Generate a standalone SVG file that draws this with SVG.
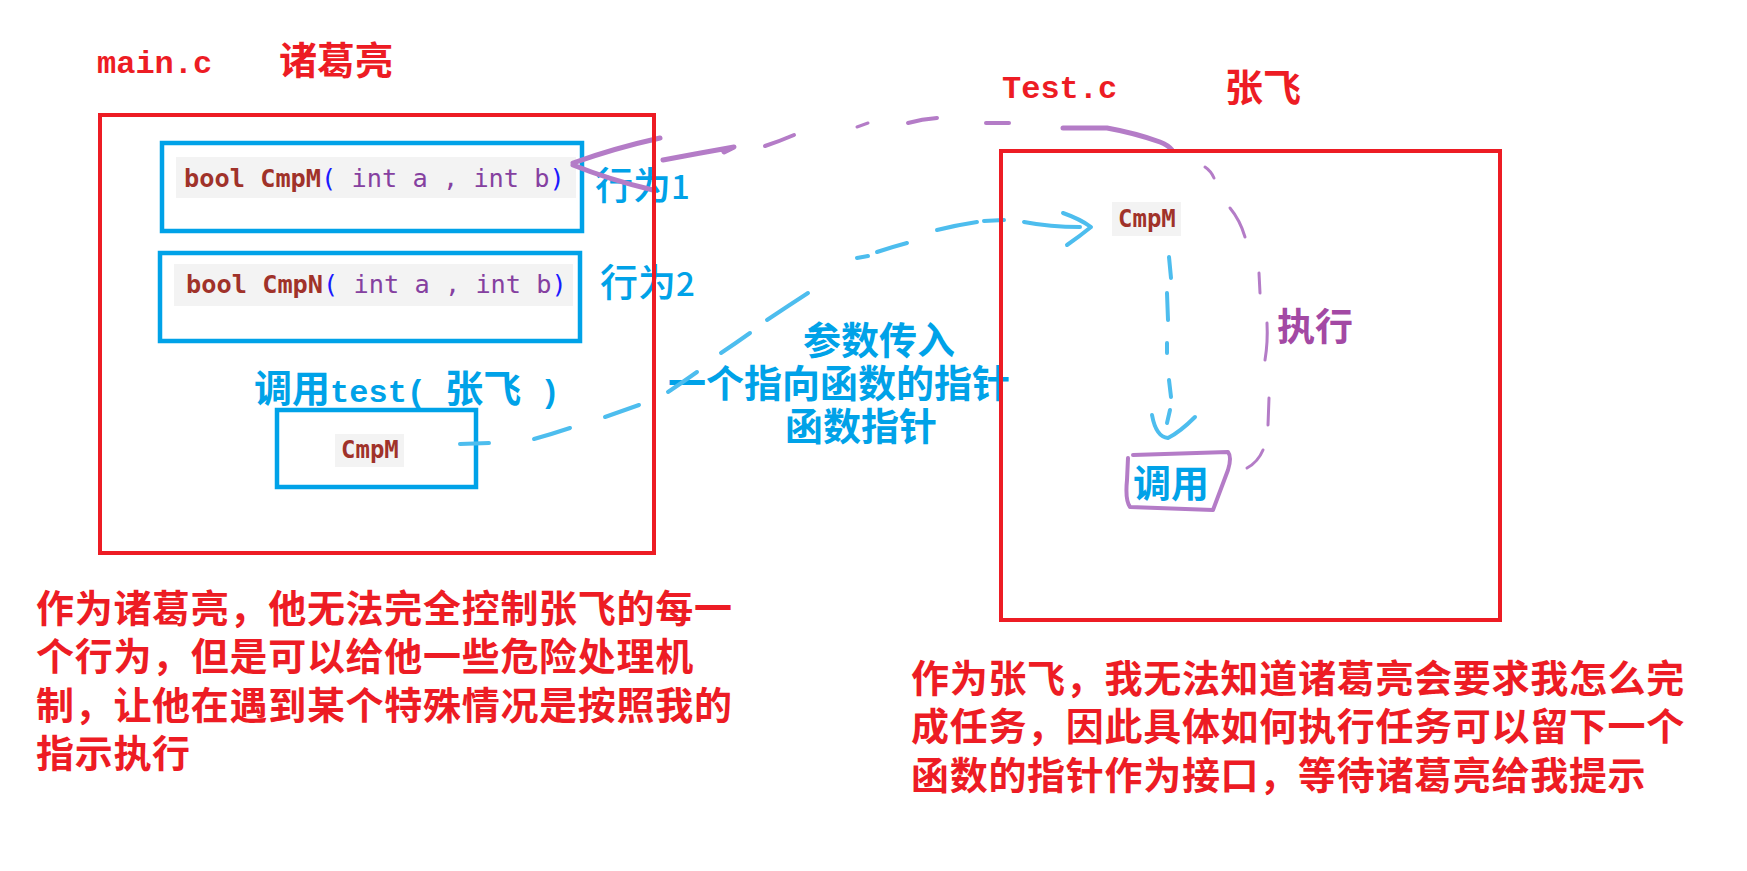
<svg xmlns="http://www.w3.org/2000/svg" width="1747" height="871" viewBox="0 0 1747 871">
<style>
.cjk{font-family:"Noto Sans CJK SC","Noto Sans",sans-serif;font-weight:bold;font-size:38px}
.reg{font-weight:500}
.mono{font-family:"Liberation Mono",monospace;font-weight:bold;font-size:32px}
.red{fill:#ed1c24}
.blue{fill:#00a2e8}
.purp{fill:#a349a4}
.para{letter-spacing:0.7px}
.code{font-family:"DejaVu Sans Mono","Liberation Mono",monospace;font-size:25.3px}
.kw{fill:#a0322a;font-weight:bold}
.par{fill:#1a1aff}
.arg{fill:#8540a0}
.bg{fill:#f3f3f3}
.frame{fill:none;stroke:#ed1c24;stroke-width:4}
.box{fill:none;stroke:#00a2e8;stroke-width:4.5}
.pc{fill:none;stroke:#b47cc7;stroke-linecap:round;stroke-linejoin:round}
.bc{fill:none;stroke:#4dbdee;stroke-width:4;stroke-linecap:round;stroke-linejoin:round}
</style>

<g id="title-main">
<text x="97" y="73" class="mono red">main.c</text>
<text x="279" y="74" class="cjk red">诸葛亮</text>
</g>
<g id="title-test">
<text x="1002" y="98" class="mono red">Test.c</text>
<text x="1225" y="101" class="cjk red">张飞</text>
</g>

<g id="node-cmpm-decl">
<rect x="176" y="157" width="400" height="41" class="bg"/>
<text x="184" y="187" class="code" xml:space="preserve"><tspan class="kw">bool CmpM</tspan><tspan class="par">(</tspan><tspan class="arg"> int a , int b</tspan><tspan class="par">)</tspan></text>
<rect x="162" y="143" width="420" height="88" class="box"/>
</g>
<g id="node-cmpn-decl">
<rect x="174" y="264" width="399" height="42" class="bg"/>
<text x="186" y="293" class="code" xml:space="preserve"><tspan class="kw">bool CmpN</tspan><tspan class="par">(</tspan><tspan class="arg"> int a , int b</tspan><tspan class="par">)</tspan></text>
<rect x="160" y="253" width="420" height="88" class="box"/>
</g>
<g id="label-behavior">
<text x="595" y="199" class="cjk reg blue">行为<tspan style="font-size:33px">1</tspan></text>
<text x="600" y="296" class="cjk reg blue">行为<tspan style="font-size:33px">2</tspan></text>
</g>
<g id="label-call-test">
<text x="254" y="402" class="blue" xml:space="preserve"><tspan class="cjk">调用</tspan><tspan class="mono">test( </tspan><tspan class="cjk">张飞</tspan><tspan class="mono"> )</tspan></text>
</g>
<g id="node-cmpm-arg">
<rect x="335" y="434" width="69" height="33" class="bg"/>
<text x="341" y="458" class="code kw" style="font-size:24px">CmpM</text>
<rect x="277" y="410" width="199" height="77" class="box"/>
</g>
<g id="label-param">
<text x="803" y="354" class="cjk blue">参数传入</text>
<text x="668" y="397" class="cjk blue">一个指向函数的指针</text>
<text x="785" y="440" class="cjk blue">函数指针</text>
</g>
<g id="node-cmpm-recv">
<rect x="1112" y="202" width="69" height="34" class="bg"/>
<text x="1118" y="227" class="code kw" style="font-size:24px">CmpM</text>
</g>
<g id="label-exec">
<text x="1277" y="340" class="cjk purp">执行</text>
</g>
<g id="node-call">
<text x="1133" y="497" class="cjk blue">调用</text>
<path d="M1133,455 L1228,452 Q1232,457 1228,470 L1213,510 L1130,507 Q1125,500 1127,480 L1128,458" class="pc" stroke-width="4"/>
</g>

<g id="connectors">
<g id="callback-purple">
<path d="M660,138 Q615,148 573,163" class="pc" stroke-width="5"/>
<path d="M573,165 Q610,180 653,190" class="pc" stroke-width="5"/>
<path d="M663,160 Q700,153 734,147 L724,152" class="pc" stroke-width="5"/>
<path d="M765,146 Q780,141 794,135" class="pc" stroke-width="4"/>
<path d="M857,127 L868,123" class="pc" stroke-width="3"/>
<path d="M908,123 Q922,119 937,118" class="pc" stroke-width="4"/>
<path d="M986,123 L1009,123" class="pc" stroke-width="4"/>
<path d="M1063,128 L1107,128 Q1135,133 1160,142 Q1168,145 1172,150" class="pc" stroke-width="5"/>
<path d="M1205,167 Q1211,171 1214,178" class="pc" stroke-width="3"/>
<path d="M1230,208 Q1240,220 1245,237" class="pc" stroke-width="3"/>
<path d="M1259,273 L1260,293" class="pc" stroke-width="3"/>
<path d="M1267,323 Q1268,342 1265,360" class="pc" stroke-width="3"/>
<path d="M1269,398 L1268,425" class="pc" stroke-width="3"/>
<path d="M1263,450 Q1258,462 1247,468" class="pc" stroke-width="3"/>
</g>
<g id="pass-blue">
<path d="M460,444 L489,443" class="bc"/>
<path d="M534,439 Q552,434 570,428" class="bc"/>
<path d="M605,417 Q622,411 639,405" class="bc"/>
<path d="M668,392 Q683,382 697,372" class="bc"/>
<path d="M721,353 Q736,343 750,333" class="bc"/>
<path d="M767,320 Q788,306 808,293" class="bc"/>
<path d="M857,258 L868,256" class="bc"/>
<path d="M877,252 Q892,247 907,243" class="bc"/>
<path d="M937,230 Q957,225 977,222" class="bc"/>
<path d="M984,221 L1004,220" class="bc"/>
<path d="M1024,222 Q1050,227 1080,227" class="bc"/>
<path d="M1063,213 Q1080,219 1091,227 Q1080,236 1067,245" class="bc" stroke-width="5"/>
</g>
<g id="invoke-blue">
<path d="M1169,257 L1171,278" class="bc" stroke-width="3"/>
<path d="M1167,293 L1168,320" class="bc" stroke-width="3"/>
<path d="M1167,343 L1167,353" class="bc" stroke-width="3"/>
<path d="M1169,380 L1171,397" class="bc" stroke-width="3"/>
<path d="M1170,410 L1167,423" class="bc" stroke-width="3"/>
<path d="M1152,415 Q1156,437 1168,438 Q1180,432 1195,417" class="bc" stroke-width="4"/>
</g>
</g>

<g id="frame-main">
<rect x="100" y="115" width="554" height="438" class="frame"/>
</g>
<g id="frame-test">
<rect x="1001" y="151" width="499" height="469" class="frame"/>
</g>

<g id="note-left">
<text class="cjk red para"><tspan x="36" y="622">作为诸葛亮，他无法完全控制张飞的每一</tspan><tspan x="36" y="670">个行为，但是可以给他一些危险处理机</tspan><tspan x="36" y="719">制，让他在遇到某个特殊情况是按照我的</tspan><tspan x="36" y="767">指示执行</tspan></text>
</g>
<g id="note-right">
<text class="cjk red para"><tspan x="911" y="692">作为张飞，我无法知道诸葛亮会要求我怎么完</tspan><tspan x="911" y="740">成任务，因此具体如何执行任务可以留下一个</tspan><tspan x="911" y="789">函数的指针作为接口，等待诸葛亮给我提示</tspan></text>
</g>
</svg>
